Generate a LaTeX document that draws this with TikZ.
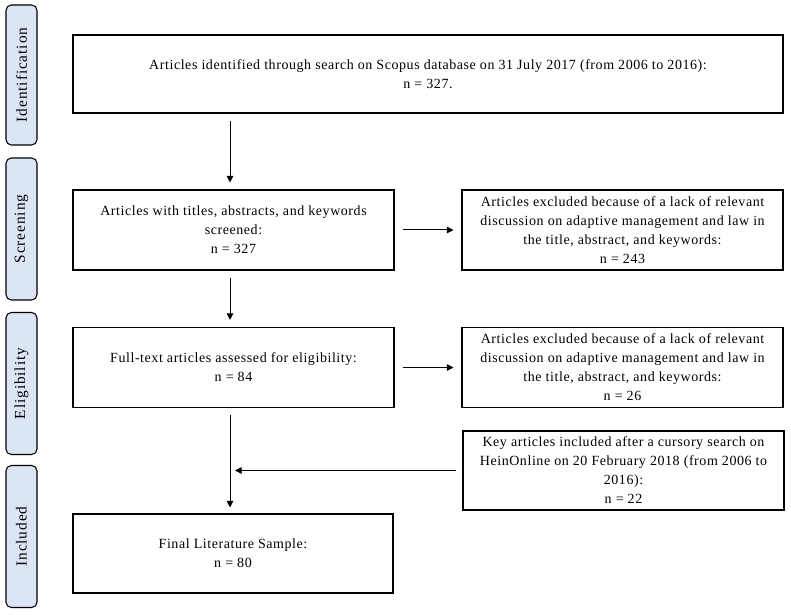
\documentclass[tikz,border=0pt]{standalone}
\usepackage{fontspec}
\setmainfont{Liberation Serif}
\newfontfamily\boxfont[LetterSpace=4]{Liberation Serif}
\newfontfamily\phasefont[LetterSpace=6]{Liberation Serif}
\usetikzlibrary{arrows.meta}

\tikzset{
  box/.style={draw, line width=0.8pt, align=center, inner sep=0pt,
    minimum width=240.75pt, minimum height=60pt,
    font=\boxfont\fontsize{10.5pt}{14.25pt}\selectfont},
  phase/.style={draw, line width=0.8pt, rounded corners=4pt, fill=phasefill,
    rotate=90, inner sep=0pt, minimum width=106.5pt, minimum height=23.25pt,
    font=\phasefont\fontsize{11.5pt}{13pt}\selectfont},
  arr/.style={-{Triangle[length=5pt,width=5pt]}, line width=0.75pt}
}
\definecolor{phasefill}{HTML}{DCE5F5}

\begin{document}
\begin{tikzpicture}[x=0.75pt, y=-0.75pt]

  \useasboundingbox (0,0) rectangle (791,616);

  % phases
  \node[phase, minimum width=105pt] (idphase) at (21.5,75) {Identification};
  \node[phase] (scphase) at (21.5,229) {Screening};
  \node[phase] (elphase) at (21.5,383.5) {Eligibility};
  \node[phase] (inphase) at (21.5,536.5) {Included};

  % boxes
  \node[box, minimum width=532.5pt, minimum height=58.5pt] (found) at (428,74)
    {Articles identified through search on Scopus database on 31 July 2017 (from 2006 to 2016):\\ n = 327.};
  \node[box] (screen) at (233.5,230)
    {Articles with titles, abstracts, and keywords\\ screened:\\ n = 327};
  \node[box] (excl1) at (622.5,230)
    {Articles excluded because of a lack of relevant\\ discussion on adaptive management and law in\\ the title, abstract, and keywords:\\ n = 243};
  \node[box] (full) at (233.5,367.5)
    {Full-text articles assessed for eligibility:\\ n = 84};
  \node[box] (excl2) at (622.5,367.5)
    {Articles excluded because of a lack of relevant\\ discussion on adaptive management and law in\\ the title, abstract, and keywords:\\ n = 26};
  \node[box, minimum height=59.25pt] (added) at (623.5,470.5)
    {Key articles included after a cursory search on\\ HeinOnline on 20 February 2018 (from 2006 to\\ 2016):\\ n = 22};
  \node[box, minimum width=240pt, minimum height=59.25pt] (sample) at (233,553.5)
    {Final Literature Sample:\\ n = 80};

  \coordinate (merge) at (230,470.5);

  % arrows
  \draw[arr, shorten <=5.25pt, shorten >=5.25pt] (found.south -| 230,0) -- (screen.north -| 230,0);
  \draw[arr, shorten <=5.25pt, shorten >=5.25pt] (screen.south -| 230,0) -- (full.north -| 230,0);
  \draw[arr, shorten <=6pt, shorten >=6pt] (screen) -- (excl1);
  \draw[arr, shorten <=6pt, shorten >=6pt] (full) -- (excl2);
  \draw[arr, shorten <=5.25pt, shorten >=4.5pt] (full.south -| 230,0) -- (sample.north -| 230,0);
  \draw[arr, shorten <=4.5pt, shorten >=3.75pt] (added) -- (merge);

\end{tikzpicture}
\end{document}
